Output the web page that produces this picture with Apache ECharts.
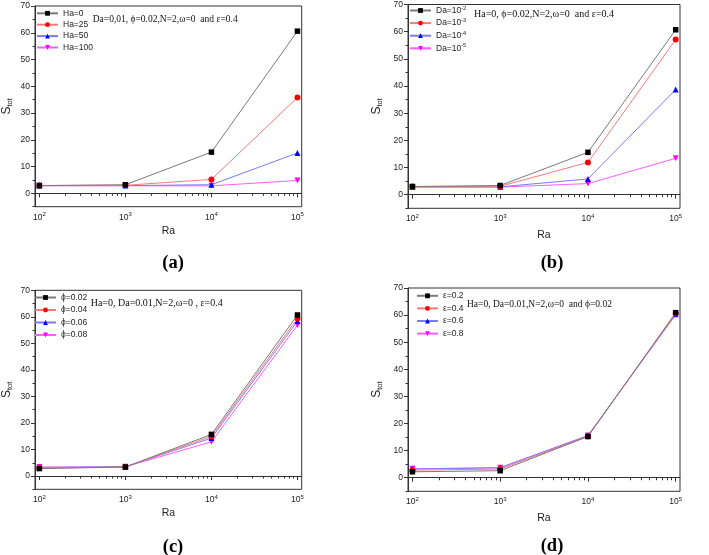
<!DOCTYPE html>
<html>
<head>
<meta charset="utf-8">
<script src="https://cdn.jsdelivr.net/npm/echarts@6/dist/echarts.min.js"></script>
<style>html,body{margin:0;padding:0;background:#fff;}#c{width:709px;height:555px;}</style>
</head>
<body>
<div id="c"></div>
<script>
// ---------- data ----------
const Ra = [100, 1000, 10000, 100000];
const minorRa = [200,300,400,500,600,700,800,900,2000,3000,4000,5000,6000,7000,8000,9000,20000,30000,40000,50000,60000,70000,80000,90000];
const yTicks = [0, 10, 20, 30, 40, 50, 60, 70];
const yMinorTicks = [-5, 5, 15, 25, 35, 45, 55, 65];

// (a) Ha
const namesA = ['Ha=0', 'Ha=25', 'Ha=50', 'Ha=100'];
const a_Ha0   = [2.9, 3.2, 15.4, 60.6];
const a_Ha25  = [2.9, 3.0, 5.2, 35.8];
const a_Ha50  = [2.9, 2.9, 3.2, 15.1];
const a_Ha100 = [2.8, 2.8, 2.8, 4.8];

// (b) Da
const namesB = ['Da=10-2', 'Da=10-3', 'Da=10-4', 'Da=10-5'];
const b_Da2 = [3.0, 3.4, 15.6, 60.7];
const b_Da3 = [3.0, 3.1, 11.9, 57.1];
const b_Da4 = [2.9, 2.9, 5.8, 38.7];
const b_Da5 = [2.8, 2.8, 4.1, 13.4];

// (c) phi
const namesC = ['ϕ=0.02', 'ϕ=0.04', 'ϕ=0.06', 'ϕ=0.08'];
const c_p02 = [2.8, 3.4, 15.7, 60.7];
const c_p04 = [3.0, 3.4, 15.0, 59.4];
const c_p06 = [3.2, 3.5, 14.3, 58.4];
const c_p08 = [3.4, 3.5, 12.9, 56.9];

// (d) epsilon
const namesD = ['ε=0.2', 'ε=0.4', 'ε=0.6', 'ε=0.8'];
const d_e2 = [2.2, 2.6, 15.2, 60.9];
const d_e4 = [2.8, 3.2, 15.3, 60.6];
const d_e6 = [3.2, 3.7, 15.5, 60.3];
const d_e8 = [3.3, 3.7, 15.6, 60.1];

const notes = [
  'Da=0,01, ϕ=0.02,N=2,ω=0  and ε=0.4',
  'Ha=0, ϕ=0.02,N=2,ω=0  and ε=0.4',
  'Ha=0, Da=0.01,N=2,ω=0 , ε=0.4',
  'Ha=0, Da=0.01,N=2,ω=0  and ϕ=0.02'
];
const panelLabels = ['(a)', '(b)', '(c)', '(d)'];

// ---------- styles / layout ----------
const markerColors = ['#000000', '#ff0000', '#0000ff', '#ff00ff'];
const lineColors = ['#7a7a7a', '#f57a7a', '#7a7aff', '#ff5cff'];
const symbols = ['rect', 'circle', 'triangle', 'triangle'];
const rotates = [0, 0, 0, 180];

const panels = [
  { names: namesA, data: [a_Ha0, a_Ha25, a_Ha50, a_Ha100], grid: {left: 30.7, top: 6, width: 271, height: 200.7},
    xGap: 19, yGap: 21, legend: {left: 36, top: 8.8, gap: 2.4}, note: {x: 92.7, y: 20, size: 9.5}, label: {x: 173, y: 263} },
  { names: namesB, data: [b_Da2, b_Da3, b_Da4, b_Da5], grid: {left: 408, top: 3.3, width: 272, height: 205},
    xGap: 21, yGap: 24, legend: {left: 409, top: 5, gap: 2.6}, note: {x: 474, y: 15, size: 10}, label: {x: 552, y: 263} },
  { names: namesC, data: [c_p02, c_p04, c_p06, c_p08], grid: {left: 30.7, top: 290.3, width: 271, height: 199},
    xGap: 18, yGap: 21, legend: {left: 34, top: 293, gap: 3.5}, note: {x: 90.7, y: 304.7, size: 10}, label: {x: 173, y: 547} },
  { names: namesD, data: [d_e2, d_e4, d_e6, d_e8], grid: {left: 408, top: 288, width: 272, height: 203.3},
    xGap: 21, yGap: 24, legend: {left: 416, top: 291.3, gap: 3.6}, note: {x: 467, y: 304.7, size: 9.5}, label: {x: 552, y: 546} }
];

const SANS = 'Liberation Sans, Arial, sans-serif';
const SERIF = 'Liberation Serif, Times New Roman, serif';
const axisColor = '#333';

const option = { animation: false, backgroundColor: '#fff', grid: [], xAxis: [], yAxis: [], series: [], legend: [], graphic: [] };

function legendFmt(n) {
  const m = n.match(/^Da=10(-\d)$/);
  return m ? 'Da=10{sup|' + m[1] + '}' : n;
}

panels.forEach((p, i) => {
  option.grid.push(Object.assign({ show: true, borderColor: axisColor, borderWidth: 1, containLabel: false }, p.grid));
  const xCommon = { type: 'log', logBase: 10, gridIndex: i, min: 89, max: 112000, position: 'bottom', splitLine: { show: false } };
  option.xAxis.push(Object.assign({}, xCommon, {
    name: 'Ra', nameLocation: 'middle', nameGap: p.xGap,
    nameTextStyle: { fontFamily: SANS, fontSize: 10.5, color: '#222' },
    axisLine: { show: true, lineStyle: { color: axisColor, width: 1 } },
    axisTick: { show: true, inside: false, length: 4, customValues: Ra, lineStyle: { color: axisColor } },
    axisLabel: { customValues: Ra, margin: 5, fontFamily: SANS, fontSize: 8.5, color: '#222',
      formatter: v => '10{sup|' + Math.round(Math.log10(v)) + '}',
      rich: { sup: { fontSize: 6, fontFamily: SANS, color: '#222', verticalAlign: 'top', padding: [0, 0, 5, 0] } } }
  }));
  option.xAxis.push(Object.assign({}, xCommon, {
    axisLine: { show: false },
    axisTick: { show: true, inside: false, length: 2.5, customValues: minorRa, lineStyle: { color: axisColor } },
    axisLabel: { show: false }
  }));
  const yCommon = { type: 'value', gridIndex: i, min: -5, max: 70, position: 'left', splitLine: { show: false } };
  option.yAxis.push(Object.assign({}, yCommon, {
    name: 'S{sub|tot}', nameLocation: 'middle', nameGap: p.yGap, nameRotate: 90,
    nameTextStyle: { fontFamily: SANS, fontSize: 12, color: '#222',
      rich: { sub: { fontFamily: SANS, fontSize: 7.5, color: '#222', padding: [6, 0, 0, 0] } } },
    axisLine: { show: true, lineStyle: { color: axisColor, width: 1 } },
    axisTick: { show: true, inside: false, length: 4, customValues: yTicks, lineStyle: { color: axisColor } },
    axisLabel: { customValues: yTicks, margin: 5, fontFamily: SANS, fontSize: 8.5, color: '#222' }
  }));
  option.yAxis.push(Object.assign({}, yCommon, {
    axisLine: { show: false },
    axisTick: { show: true, inside: false, length: 2.5, customValues: yMinorTicks, lineStyle: { color: axisColor } },
    axisLabel: { show: false }
  }));
  p.names.forEach((name, k) => {
    option.series.push({
      type: 'line', name: name, xAxisIndex: 2 * i, yAxisIndex: 2 * i,
      data: Ra.map((r, j) => [r, p.data[k][j]]),
      symbol: symbols[k], symbolRotate: rotates[k], symbolSize: k === 0 ? 5.5 : 6,
      itemStyle: { color: markerColors[k] },
      lineStyle: { color: lineColors[k], width: 1 },
      z: 10 - k
    });
  });
  option.legend.push({
    orient: 'vertical', left: p.legend.left, top: p.legend.top, padding: 0,
    itemWidth: 21, itemHeight: 6, itemGap: p.legend.gap,
    data: p.names, formatter: legendFmt,
    textStyle: { fontFamily: SANS, fontSize: 8.5, color: '#222',
      rich: { sup: { fontFamily: SANS, fontSize: 5.5, color: '#222', verticalAlign: 'top', padding: [0, 0, 5, 0] } } }
  });
  option.graphic.push({
    type: 'text', left: p.note.x, top: p.note.y - p.note.size * 0.6,
    style: { text: notes[i], fontFamily: SERIF, fontSize: p.note.size, fill: '#111' }
  });
  option.graphic.push({
    type: 'text', x: p.label.x, y: p.label.y,
    style: { text: panelLabels[i], fontFamily: SERIF, fontSize: 18.5, fontWeight: 'bold', fill: '#000', align: 'center', verticalAlign: 'middle' }
  });
});

const chart = echarts.init(document.getElementById('c'), null, { renderer: 'canvas' });
chart.setOption(option);
</script>
</body>
</html>
